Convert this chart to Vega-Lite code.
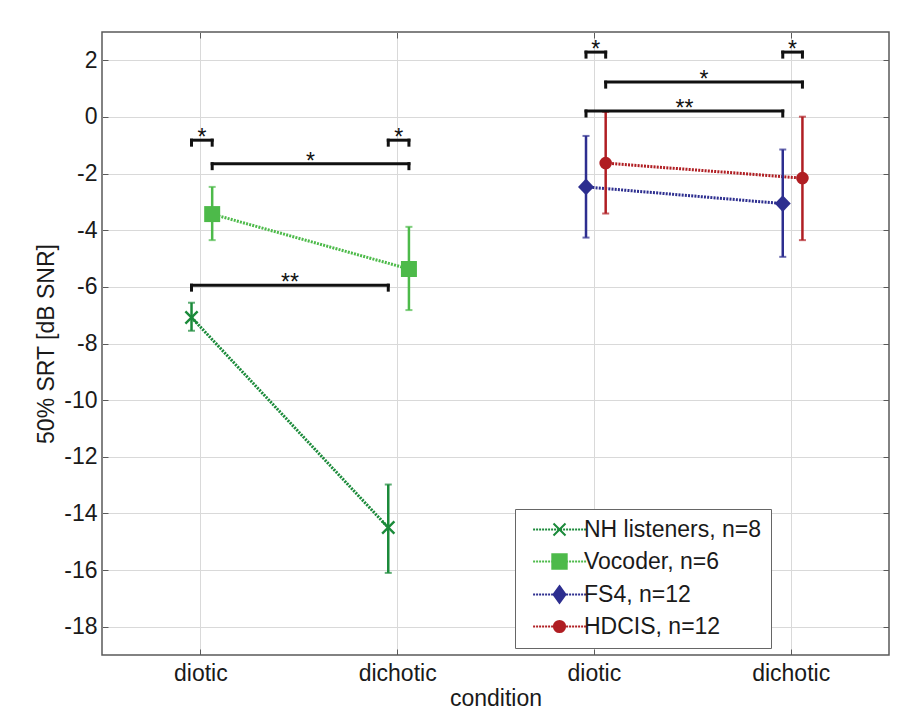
{
  "$schema": "https://vega.github.io/schema/vega-lite/v6.json",
  "width": 787,
  "height": 623,
  "autosize": {"type": "none"},
  "padding": {"left": 102, "top": 32, "right": 15, "bottom": 72},
  "background": "white",
  "config": {
    "font": "Liberation Sans",
    "view": {"stroke": "#5a5a5a", "strokeWidth": 1.5},
    "axis": {
      "labelFont": "Liberation Sans", "labelFontSize": 23, "labelColor": "#1a1a1a",
      "titleFont": "Liberation Sans", "titleFontSize": 23, "titleFontWeight": "normal", "titleColor": "#1a1a1a",
      "domain": false, "tickColor": "#5a5a5a", "tickSize": -6, "tickWidth": 1,
      "gridColor": "#d9d9d9", "gridWidth": 1
    }
  },
  "datasets": {
    "srt": [
      {"series": "NH listeners, n=8", "condition": "diotic", "x": 0.455, "mean": -7.08, "lo": -7.55, "hi": -6.56},
      {"series": "NH listeners, n=8", "condition": "dichotic", "x": 1.455, "mean": -14.5, "lo": -16.1, "hi": -12.98},
      {"series": "Vocoder, n=6", "condition": "diotic", "x": 0.56, "mean": -3.43, "lo": -4.35, "hi": -2.47},
      {"series": "Vocoder, n=6", "condition": "dichotic", "x": 1.56, "mean": -5.37, "lo": -6.82, "hi": -3.88},
      {"series": "FS4, n=12", "condition": "diotic", "x": 2.46, "mean": -2.47, "lo": -4.26, "hi": -0.67},
      {"series": "FS4, n=12", "condition": "dichotic", "x": 3.46, "mean": -3.06, "lo": -4.94, "hi": -1.15},
      {"series": "HDCIS, n=12", "condition": "diotic", "x": 2.56, "mean": -1.63, "lo": -3.41, "hi": 0.18},
      {"series": "HDCIS, n=12", "condition": "dichotic", "x": 3.56, "mean": -2.16, "lo": -4.35, "hi": 0.01}
    ],
    "brackets": [
      {"x1": 0.455, "x2": 0.56, "xm": 0.5075, "y": -0.82, "label": "*"},
      {"x1": 1.455, "x2": 1.56, "xm": 1.5075, "y": -0.82, "label": "*"},
      {"x1": 0.56, "x2": 1.56, "xm": 1.06, "y": -1.65, "label": "*"},
      {"x1": 0.455, "x2": 1.455, "xm": 0.955, "y": -5.94, "label": "**"},
      {"x1": 2.46, "x2": 2.56, "xm": 2.51, "y": 2.29, "label": "*"},
      {"x1": 3.46, "x2": 3.56, "xm": 3.51, "y": 2.29, "label": "*"},
      {"x1": 2.56, "x2": 3.56, "xm": 3.06, "y": 1.23, "label": "*"},
      {"x1": 2.46, "x2": 3.46, "xm": 2.96, "y": 0.21, "label": "**"}
    ]
  },
  "resolve": {"axis": {"x": "independent", "y": "independent"}},
  "layer": [
    {
      "layer": [
        {
          "data": {"name": "srt"},
          "mark": {"type": "line", "strokeWidth": 3, "strokeDash": [2, 1.2]},
          "encoding": {
            "x": {"field": "x", "type": "quantitative", "scale": {"domain": [0, 4], "nice": false, "zero": false},
              "axis": {"orient": "bottom", "values": [0.5, 1.5, 2.5, 3.5], "labelExpr": "datum.value == 0.5 || datum.value == 2.5 ? 'diotic' : 'dichotic'", "title": "condition", "grid": true, "labelPadding": 13, "titlePadding": 2}},
            "y": {"field": "mean", "type": "quantitative", "scale": {"domain": [-19, 3], "nice": false, "zero": false},
              "axis": {"orient": "left", "values": [2, 0, -2, -4, -6, -8, -10, -12, -14, -16, -18], "labelExpr": "'' + datum.value", "title": "50% SRT [dB SNR]", "grid": true, "labelPadding": 11, "titlePadding": 5}},
            "color": {"field": "series", "type": "nominal", "legend": null,
              "scale": {"domain": ["HDCIS, n=12", "FS4, n=12", "Vocoder, n=6", "NH listeners, n=8"], "range": ["#b01e23", "#2d2e8f", "#4dba4a", "#1b8a3a"]}}
          }
        },
        {
          "data": {"name": "srt"},
          "mark": {"type": "rule", "strokeWidth": 2.5},
          "encoding": {
            "x": {"field": "x", "type": "quantitative"},
            "y": {"field": "lo", "type": "quantitative"},
            "y2": {"field": "hi"},
            "color": {"field": "series", "type": "nominal", "legend": null}
          }
        },
        {
          "data": {"name": "srt"},
          "mark": {"type": "tick", "orient": "horizontal", "size": 7, "thickness": 2},
          "encoding": {
            "x": {"field": "x", "type": "quantitative"},
            "y": {"field": "lo", "type": "quantitative"},
            "color": {"field": "series", "type": "nominal", "legend": null}
          }
        },
        {
          "data": {"name": "srt"},
          "mark": {"type": "tick", "orient": "horizontal", "size": 7, "thickness": 2},
          "encoding": {
            "x": {"field": "x", "type": "quantitative"},
            "y": {"field": "hi", "type": "quantitative"},
            "color": {"field": "series", "type": "nominal", "legend": null}
          }
        },
        {
          "data": {"name": "srt"},
          "transform": [{"filter": "datum.series == 'NH listeners, n=8'"}],
          "mark": {"type": "point", "shape": "M-1,-1L1,1M-1,1L1,-1", "size": 150, "filled": false, "strokeWidth": 2.4, "opacity": 1},
          "encoding": {
            "x": {"field": "x", "type": "quantitative"},
            "y": {"field": "mean", "type": "quantitative"},
            "color": {"field": "series", "type": "nominal", "legend": null}
          }
        },
        {
          "data": {"name": "srt"},
          "transform": [{"filter": "datum.series == 'Vocoder, n=6'"}],
          "mark": {"type": "point", "shape": "square", "size": 256, "filled": true, "opacity": 1},
          "encoding": {
            "x": {"field": "x", "type": "quantitative"},
            "y": {"field": "mean", "type": "quantitative"},
            "color": {"field": "series", "type": "nominal", "legend": null}
          }
        },
        {
          "data": {"name": "srt"},
          "transform": [{"filter": "datum.series == 'FS4, n=12'"}],
          "mark": {"type": "point", "shape": "M0,-1.05L1,0L0,1.05L-1,0Z", "size": 256, "filled": true, "opacity": 1},
          "encoding": {
            "x": {"field": "x", "type": "quantitative"},
            "y": {"field": "mean", "type": "quantitative"},
            "color": {"field": "series", "type": "nominal", "legend": null}
          }
        },
        {
          "data": {"name": "srt"},
          "transform": [{"filter": "datum.series == 'HDCIS, n=12'"}],
          "mark": {"type": "point", "shape": "circle", "size": 160, "filled": true, "opacity": 1},
          "encoding": {
            "x": {"field": "x", "type": "quantitative"},
            "y": {"field": "mean", "type": "quantitative"},
            "color": {"field": "series", "type": "nominal", "legend": null}
          }
        },
        {
          "data": {"name": "brackets"},
          "mark": {"type": "rule", "strokeWidth": 3, "color": "#111", "strokeCap": "square"},
          "encoding": {
            "x": {"field": "x1", "type": "quantitative"},
            "x2": {"field": "x2"},
            "y": {"field": "y", "type": "quantitative"}
          }
        },
        {
          "data": {"name": "brackets"},
          "mark": {"type": "rule", "strokeWidth": 3, "color": "#111", "y2Offset": 5, "strokeCap": "square"},
          "encoding": {
            "x": {"field": "x1", "type": "quantitative"},
            "y": {"field": "y", "type": "quantitative"},
            "y2": {"field": "y"}
          }
        },
        {
          "data": {"name": "brackets"},
          "mark": {"type": "rule", "strokeWidth": 3, "color": "#111", "y2Offset": 5, "strokeCap": "square"},
          "encoding": {
            "x": {"field": "x2", "type": "quantitative"},
            "y": {"field": "y", "type": "quantitative"},
            "y2": {"field": "y"}
          }
        },
        {
          "data": {"name": "brackets"},
          "mark": {"type": "text", "fontSize": 23, "color": "#111", "align": "center", "baseline": "alphabetic", "dy": 5},
          "encoding": {
            "x": {"field": "xm", "type": "quantitative"},
            "y": {"field": "y", "type": "quantitative"},
            "text": {"field": "label"}
          }
        },
        {
          "data": {"name": "srt"},
          "transform": [{"filter": "false"}],
          "mark": {"type": "point", "filled": true, "opacity": 1},
          "encoding": {
            "x": {"field": "x", "type": "quantitative"},
            "y": {"field": "mean", "type": "quantitative"},
            "fill": {"field": "series", "type": "nominal",
              "scale": {"domain": ["NH listeners, n=8", "Vocoder, n=6", "FS4, n=12", "HDCIS, n=12"], "range": ["#1b8a3a", "#4dba4a", "#2d2e8f", "#b01e23"]},
              "legend": {"orient": "none", "legendX": 413, "legendY": 477, "title": null, "labelFont": "Liberation Sans", "labelFontSize": 23, "labelColor": "#1a1a1a", "labelLimit": 400, "symbolSize": 256, "symbolStrokeWidth": 2, "symbolOpacity": 1, "symbolOffset": 24, "padding": 9, "rowPadding": 8, "labelOffset": 13, "strokeColor": "#666666", "fillColor": "white"}},
            "stroke": {"field": "series", "type": "nominal",
              "scale": {"domain": ["NH listeners, n=8", "Vocoder, n=6", "FS4, n=12", "HDCIS, n=12"], "range": ["#1b8a3a", "#4dba4a", "#2d2e8f", "#b01e23"]}},
            "shape": {"field": "series", "type": "nominal",
              "scale": {"domain": ["NH listeners, n=8", "Vocoder, n=6", "FS4, n=12", "HDCIS, n=12"],
                "range": [
                  "M-3.3,0h0.25M-2.925,0h0.25M-2.55,0h0.25M-2.175,0h0.25M-1.8,0h0.25M-1.425,0h0.25M-1.05,0h0.25M-0.675,0h0.25M-0.3,0h0.25M0.075,0h0.25M0.45,0h0.25M0.825,0h0.25M1.2,0h0.25M1.575,0h0.25M1.95,0h0.25M2.325,0h0.25M2.7,0h0.25M3.075,0h0.25M-0.75,-0.75L0.75,0.75M-0.75,0.75L0.75,-0.75",
                  "M-3.3,0h0.25M-2.925,0h0.25M-2.55,0h0.25M-2.175,0h0.25M-1.8,0h0.25M-1.425,0h0.25M-1.05,0h0.25M-0.675,0h0.25M-0.3,0h0.25M0.075,0h0.25M0.45,0h0.25M0.825,0h0.25M1.2,0h0.25M1.575,0h0.25M1.95,0h0.25M2.325,0h0.25M2.7,0h0.25M3.075,0h0.25M-0.9,-0.9H0.9V0.9H-0.9Z",
                  "M-3.3,0h0.25M-2.925,0h0.25M-2.55,0h0.25M-2.175,0h0.25M-1.8,0h0.25M-1.425,0h0.25M-1.05,0h0.25M-0.675,0h0.25M-0.3,0h0.25M0.075,0h0.25M0.45,0h0.25M0.825,0h0.25M1.2,0h0.25M1.575,0h0.25M1.95,0h0.25M2.325,0h0.25M2.7,0h0.25M3.075,0h0.25M0,-1.05L0.75,0L0,1.05L-0.75,0Z",
                  "M-3.3,0h0.25M-2.925,0h0.25M-2.55,0h0.25M-2.175,0h0.25M-1.8,0h0.25M-1.425,0h0.25M-1.05,0h0.25M-0.675,0h0.25M-0.3,0h0.25M0.075,0h0.25M0.45,0h0.25M0.825,0h0.25M1.2,0h0.25M1.575,0h0.25M1.95,0h0.25M2.325,0h0.25M2.7,0h0.25M3.075,0h0.25M0.7,0A0.7,0.7 0 1,1 -0.7,0A0.7,0.7 0 1,1 0.7,0Z"
                ]}}
          }
        }
      ]
    },
    {
      "data": {"name": "srt"},
      "transform": [{"filter": "false"}],
      "mark": {"type": "point"},
      "encoding": {
        "x": {"field": "x", "type": "quantitative", "axis": {"orient": "top", "values": [0.5, 1.5, 2.5, 3.5], "labels": false, "grid": false, "title": null}},
        "y": {"field": "mean", "type": "quantitative", "axis": {"orient": "right", "values": [2, 0, -2, -4, -6, -8, -10, -12, -14, -16, -18], "labels": false, "grid": false, "title": null}}
      }
    }
  ]
}
